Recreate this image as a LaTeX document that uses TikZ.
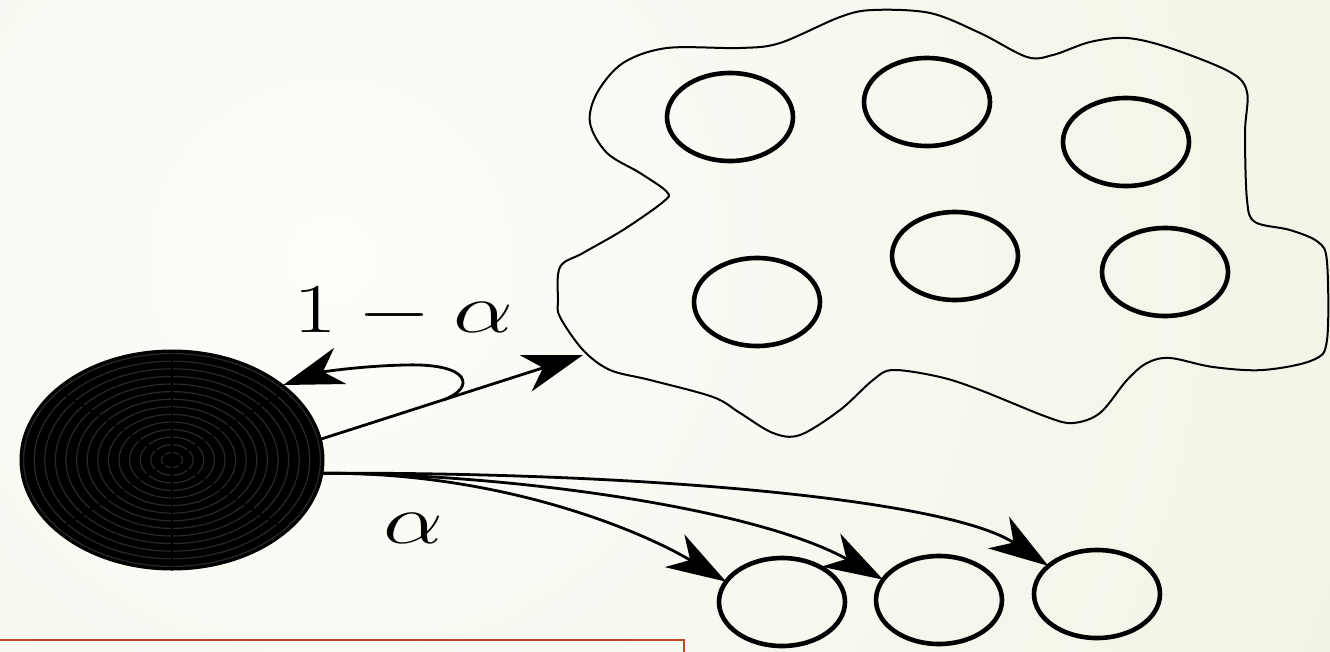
\RequirePackage{fix-cm}
\documentclass[tikz,border=0pt]{standalone}
\usepackage{graphicx}
\usetikzlibrary{arrows.meta,calc,shapes.geometric}
\definecolor{bgin}{HTML}{FDFDFA}
\definecolor{bgout}{HTML}{E5EBD1}
\definecolor{framered}{HTML}{C0462C}

\begin{document}
\begin{tikzpicture}[x=1pt,y=-1pt,
  unit/.style={ellipse,draw=black,line width=4.6pt,minimum width=126pt,minimum height=88pt,inner sep=0pt,outer sep=0pt},
  core/.style={ellipse,fill=black,draw=black,line width=1pt,minimum width=304pt,minimum height=220pt,inner sep=0pt,outer sep=0pt},
  ring/.style={draw=black!84,line width=1.2pt},
  spoke/.style={draw=black,line width=2.2pt},
  hull/.style={draw=black,line width=2pt},
  arr/.style={draw=black,line width=2.8pt,-{Stealth[length=60pt,width=38pt,inset=18pt]}},
  lbl/.style={inner sep=0pt,anchor=base,font=\fontsize{70}{84}\selectfont}]

% page and backdrop
\useasboundingbox (0,0) rectangle (1330,651);
\fill[bgout] (0,0) rectangle (1330,651);
\begin{scope}
  \clip (0,0) rectangle (1330,651);
  \shade[inner color=bgin,outer color=bgout] (330,260) circle[radius=2100pt];
\end{scope}

% the large source disk with its ring pattern
\node[core] (disk) at (172,460) {};
\foreach \k in {1,...,14}
  \draw[ring] (disk.center) ellipse [x radius=\k*10.6pt, y radius=\k*7.6pt];
\foreach \a in {40,90,140,220,270,320}
  \draw[spoke] (disk.center) -- ($(disk.center)+({146*cos(\a)},{106*sin(\a)})$);

% the cloud of units
\draw[hull] plot[smooth cycle, tension=0.55] coordinates {
  (667,48) (740,48) (780,43) (840,17) (873,10) (930,13) (980,33) (1027,57)
  (1053,55) (1090,42) (1127,38) (1170,48) (1230,72) (1247,92) (1245,133)
  (1247,200) (1255,222) (1290,230) (1318,242) (1327,262) (1327,340)
  (1313,360) (1263,370) (1213,367) (1170,358) (1147,363) (1127,380)
  (1100,413) (1073,423) (1047,417) (980,390) (940,377) (893,370) (873,380)
  (840,410) (800,435) (773,433) (740,413) (713,397) (650,380) (610,370)
  (583,350) (560,317) (558,300) (560,267) (583,253) (623,230) (663,202)
  (667,192) (640,173) (607,153) (590,123) (597,93) (623,63)};
\coordinate (cloud) at (583,355);

\node[unit] (u1) at (730,117) {};
\node[unit] (u2) at (927,102) {};
\node[unit] (u3) at (1126,142) {};
\node[unit] (u4) at (757,302) {};
\node[unit] (u5) at (955,256) {};
\node[unit] (u6) at (1165,272) {};

% the three separate units
\node[unit] (c1) at (782,602) {};
\node[unit] (c2) at (939,600) {};
\node[unit] (c3) at (1097,594) {};

% connectors
\draw[arr] (disk.8) -- (cloud);
\draw[arr] ($(disk.8)!0.47!(cloud)$) .. controls (475,388) and (472,363) .. (405,365)
  .. controls (360,366) and (322,372) .. (disk.34);
\draw[arr] (disk.-5) .. controls (500,472) and (640,530) .. (c1.160);
\draw[arr] (disk.-5) .. controls (520,474) and (760,510) .. (c2.160);
\draw[arr] (disk.-5) .. controls (650,472) and (950,500) .. (c3.150);

% labels
\node[lbl] (pstay) at (403,332) {\scalebox{1.36}[1]{$1-\alpha$}};
\node[lbl] (pleave) at (413,543) {\scalebox{1.36}[1]{$\alpha$}};

% framed box at the lower left
\draw[framered,line width=2.4pt] (-5,640) rectangle (684,680);
\end{tikzpicture}
\end{document}
